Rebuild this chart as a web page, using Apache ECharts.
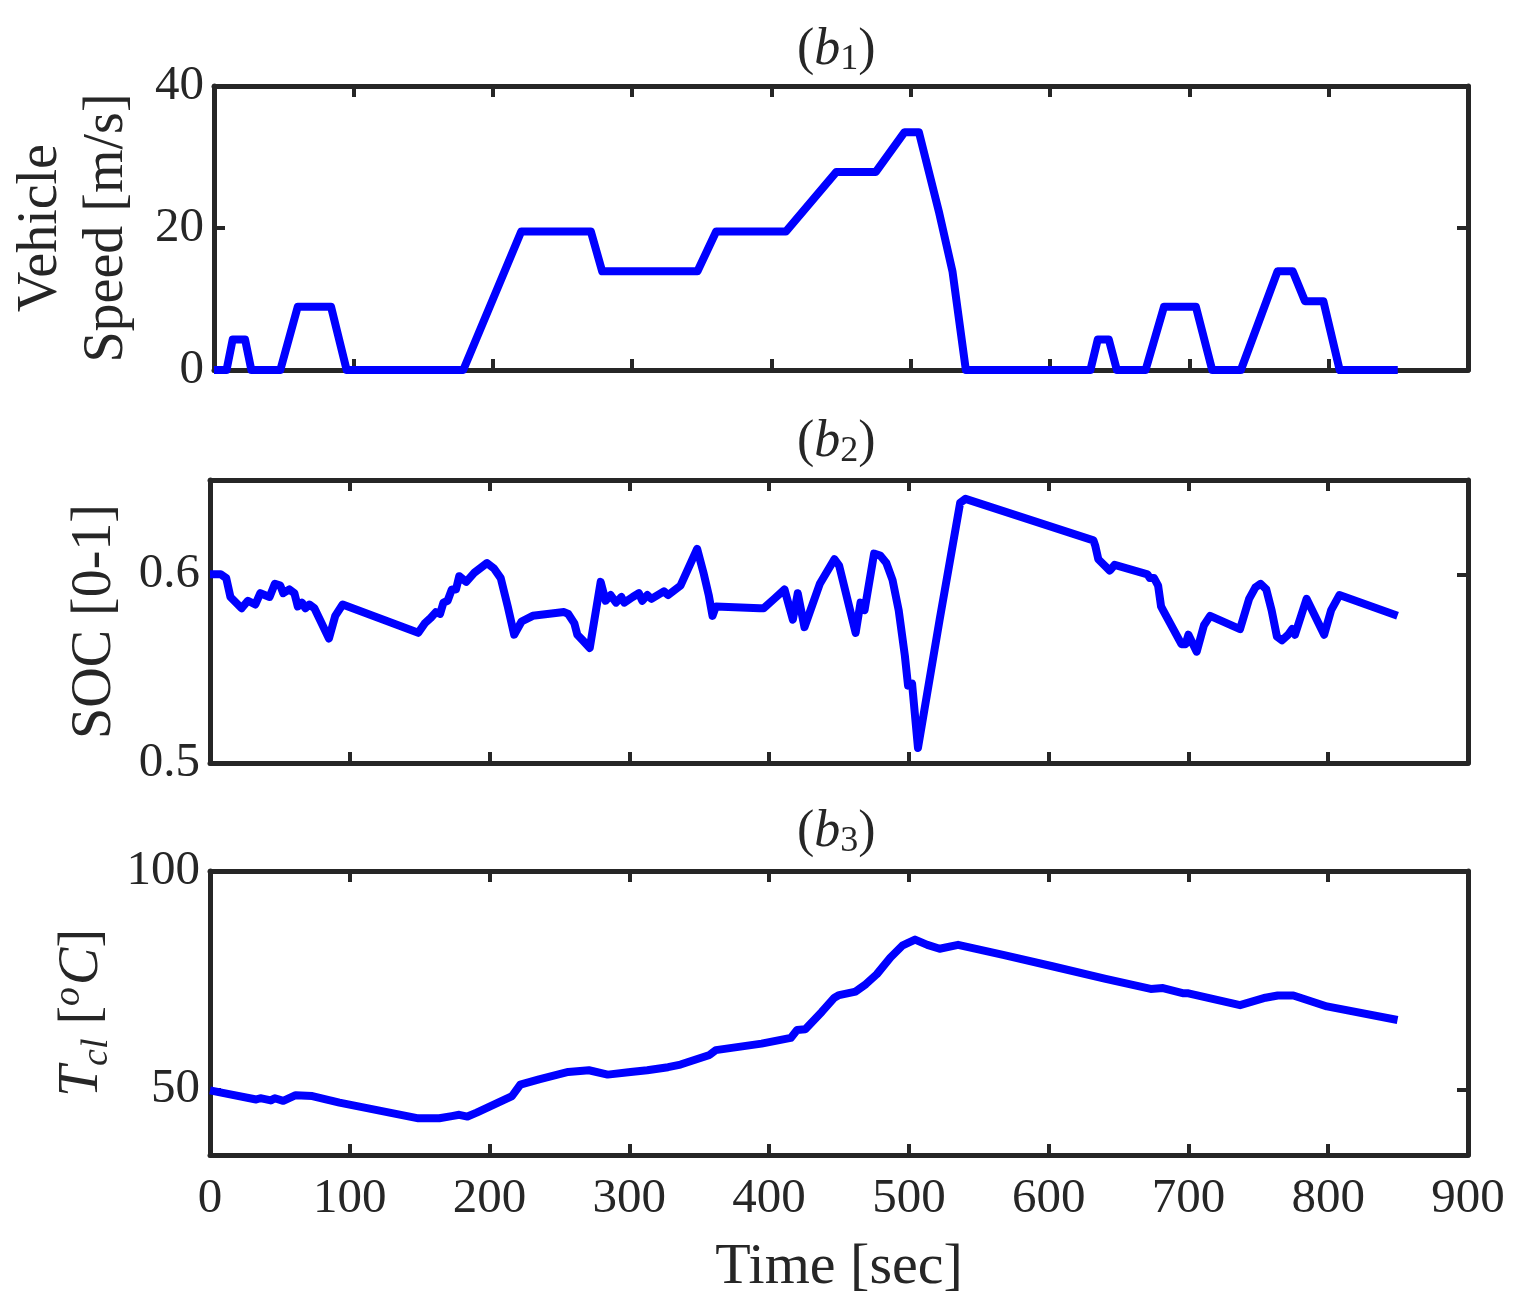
<!DOCTYPE html>
<html>
<head>
<meta charset="utf-8">
<script src="https://cdn.jsdelivr.net/npm/echarts@6/dist/echarts.min.js"></script>
<style>
html, body { margin: 0; padding: 0; background: #fff; }
#main { width: 1528px; height: 1301px; }
</style>
</head>
<body>
<div id="main"></div>
<script>
// time axis ticks
var timeTicks = [0, 100, 200, 300, 400, 500, 600, 700, 800, 900];

// (b1) vehicle speed [m/s]
var speedT = [0, 9, 13.4, 22.3, 26.8, 47.6, 60.1, 84, 95.2, 178.9, 220.5, 270.5, 278.6, 347, 360.4, 410.4, 446.7, 475, 495.6, 505.9, 520.5, 530, 539.6, 629, 634.3, 642.2, 648, 668.6, 681.8, 704.7, 716.4, 737, 763.3, 774.2, 783, 796.2, 807.9, 849.6];
var speedV = [0, 0, 4.3, 4.3, 0, 0, 8.9, 8.9, 0, 0, 19.5, 19.5, 13.9, 13.9, 19.5, 19.5, 27.9, 27.9, 33.5, 33.5, 22.1, 13.9, 0, 0, 4.3, 4.3, 0, 0, 8.9, 8.9, 0, 0, 13.9, 13.9, 9.7, 9.7, 0, 0];

// (b2) SOC [0-1]
var socT = [0, 7.7, 11.6, 14.6, 22.6, 27.1, 32.4, 36, 42.6, 46.4, 50.3, 52.4, 56.8, 60.4, 62.8, 65.8, 68.2, 71.1, 74.7, 85.1, 89.6, 94.9,
  149, 153.6, 158, 161.6, 164.6, 167, 170, 173, 176, 178.3, 183.3, 189.3, 198.2, 203.3, 208, 213, 217.6, 219, 222.9, 230.9,
  253.3, 256.3, 260.7, 262.8, 266.7, 271.7, 279.5, 283, 286.6, 290.5, 294.3, 296.4, 302.4, 306.8, 309.2, 312.8, 315.8, 324.7, 327.7, 336.6,
  348.5, 353, 356.8, 359.5, 361.9, 393.2, 396.1, 403.6, 411, 417, 420.5, 425.3, 436.3, 446.7, 450.1,
  461.9, 465.4, 468.3, 475.1, 479.5, 483.9, 488.3, 492.7, 497.1, 499.4, 502.3, 502.9, 506.5, 522, 536.7, 540.5,
  632, 633.4, 635.5, 643.7, 647.2, 670.7, 672.4, 675.4, 678.3, 680.4, 681.8, 695, 697.9, 700, 705.9, 711.1, 715.5,
  736.9, 743.4, 747.8, 751.6, 755.7, 759.5, 763.3, 766.9, 771.3, 774.2, 776.2, 784.5, 797.1, 802.1, 808, 849.6];
var socV = [0.600, 0.600, 0.598, 0.588, 0.582, 0.586, 0.584, 0.590, 0.588, 0.595, 0.594, 0.590, 0.592, 0.590, 0.583, 0.585, 0.582, 0.584, 0.582, 0.566, 0.578, 0.584,
  0.569, 0.574, 0.577, 0.580, 0.579, 0.585, 0.586, 0.592, 0.592, 0.599, 0.596, 0.601, 0.606, 0.603, 0.598, 0.583, 0.568, 0.567, 0.575, 0.578,
  0.580, 0.579, 0.574, 0.568, 0.565, 0.561, 0.596, 0.586, 0.589, 0.585, 0.588, 0.585, 0.588, 0.590, 0.586, 0.589, 0.587, 0.591, 0.589, 0.594,
  0.6135, 0.601, 0.589, 0.578, 0.583, 0.582, 0.582, 0.587, 0.592, 0.576, 0.590, 0.572, 0.595, 0.608, 0.6046,
  0.569, 0.585, 0.581, 0.611, 0.610, 0.606, 0.597, 0.581, 0.557, 0.541, 0.542, 0.537, 0.508, 0.576, 0.638, 0.640,
  0.618, 0.615, 0.608, 0.602, 0.605, 0.600, 0.598, 0.598, 0.594, 0.583, 0.581, 0.563, 0.563, 0.568, 0.559, 0.573, 0.578,
  0.571, 0.587, 0.593, 0.595, 0.592, 0.581, 0.567, 0.565, 0.568, 0.571, 0.568, 0.587, 0.568, 0.581, 0.589, 0.578];

// (b3) coolant temperature [oC]
var tempT = [0, 33, 36, 43.5, 46.4, 52.4, 61.3, 73.2, 92.6, 149.1, 164, 173, 178.3, 184.2, 190.8, 216.1, 222, 235.4, 256.3, 271.1, 284.5, 300.9, 312.8, 327.7, 336.6, 357.4, 361.9, 394.6, 415.5, 420, 425.9, 437.8, 446.7, 450.1,
  461.9, 469.2, 477.1, 486.8, 495.6, 504.4, 513.2, 522, 535.2, 567.4, 602.6, 640.8, 673, 681.8, 696.5, 700, 736.9, 755.1, 763.9, 775.1, 799.1, 849.6];
var tempV = [49.8, 47.7, 48.0, 47.5, 48.0, 47.4, 48.7, 48.5, 47.0, 43.4, 43.4, 43.9, 44.2, 43.8, 44.7, 48.5, 51.1, 52.3, 54.0, 54.4, 53.4, 54.0, 54.4, 55.1, 55.7, 57.9, 59.0, 60.5, 61.8, 63.6, 63.8, 67.8, 71.0, 71.6,
  72.4, 74.1, 76.4, 80.2, 83.0, 84.3, 83.1, 82.2, 83.1, 80.8, 78.2, 75.3, 73.0, 73.2, 72.0, 72.0, 69.3, 71.0, 71.5, 71.5, 69.0, 65.9];

var speedTicks = [0, 20, 40];
var socTicks = [0.5, 0.6];
var tempTicks = [50, 100];

function zip(a, b) {
  var out = [];
  for (var i = 0; i < a.length; i++) {
    out.push([a[i], b[i]]);
  }
  return out;
}

var ink = '#262626';
var font = '"Liberation Serif", "DejaVu Serif", serif';
var tickFont = 49;
var nameFont = 56;

var grids = [
  { left: 210, width: 1258, top: 86, height: 284 },
  { left: 210, width: 1258, top: 480, height: 283 },
  { left: 210, width: 1258, top: 871, height: 284 }
];

function frameLine() {
  return { show: true, onZero: false, lineStyle: { color: ink, width: 5 } };
}

var xAxes = [];
var yAxes = [];
for (var g = 0; g < 3; g++) {
  // bottom x axis
  xAxes.push({
    type: 'value', gridIndex: g, position: 'bottom', min: 0, max: 900,
    axisLine: frameLine(),
    axisTick: { show: true, inside: true, length: 11, customValues: timeTicks, lineStyle: { color: ink, width: 4 } },
    axisLabel: { show: g == 2, customValues: timeTicks, margin: 20, color: ink, fontFamily: font, fontSize: tickFont },
    splitLine: { show: false },
    name: g == 2 ? 'Time [sec]' : '',
    nameLocation: 'middle', nameGap: 84,
    nameTextStyle: { color: ink, fontFamily: font, fontSize: 58 }
  });
  // top x axis (frame + ticks)
  xAxes.push({
    type: 'value', gridIndex: g, position: 'top', min: 0, max: 900,
    axisLine: frameLine(),
    axisTick: { show: true, inside: true, length: 11, customValues: timeTicks, lineStyle: { color: ink, width: 4 } },
    axisLabel: { show: false },
    splitLine: { show: false }
  });
}

var yRanges = [[0, 40, speedTicks], [0.5, 0.65, socTicks], [35, 100, tempTicks]];
var yNames = [
  'Vehicle\nSpeed [m/s]',
  'SOC [0-1]',
  '{it|T}{sub|cl} {n|[}{sup|o}{it|C}{n|]}'
];
var yGaps = [74, 80, 88];

for (var g = 0; g < 3; g++) {
  var r = yRanges[g];
  yAxes.push({
    type: 'value', gridIndex: g, position: 'left', min: r[0], max: r[1],
    axisLine: frameLine(),
    axisTick: { show: true, inside: true, length: 11, customValues: r[2], lineStyle: { color: ink, width: 4 } },
    axisLabel: { show: true, customValues: r[2], margin: 10, color: ink, fontFamily: font, fontSize: tickFont },
    splitLine: { show: false },
    name: yNames[g],
    nameLocation: 'middle', nameGap: yGaps[g],
    nameTextStyle: {
      color: ink, fontFamily: font, fontSize: nameFont, lineHeight: 66,
      rich: {
        it: { fontStyle: 'italic', fontSize: nameFont, fontFamily: font, color: ink },
        n: { fontSize: nameFont, fontFamily: font, color: ink },
        sub: { fontStyle: 'italic', fontSize: 38, fontFamily: font, color: ink, verticalAlign: 'bottom', padding: [20, 0, 0, 0] },
        sup: { fontStyle: 'italic', fontSize: 38, fontFamily: font, color: ink, verticalAlign: 'top', padding: [0, 2, 20, 0] }
      }
    }
  });
  yAxes.push({
    type: 'value', gridIndex: g, position: 'right', min: r[0], max: r[1],
    axisLine: frameLine(),
    axisTick: { show: true, inside: true, length: 11, customValues: r[2], lineStyle: { color: ink, width: 4 } },
    axisLabel: { show: false },
    splitLine: { show: false }
  });
}

var seriesData = [zip(speedT, speedV), zip(socT, socV), zip(tempT, tempV)];
var series = [];
for (var g = 0; g < 3; g++) {
  series.push({
    type: 'line', xAxisIndex: g * 2, yAxisIndex: g * 2,
    data: seriesData[g], showSymbol: false, clip: false, animation: false,
    lineStyle: { color: '#0000ff', width: 8, join: 'round' }
  });
}

var titleTops = [24, 416, 806];
var graphics = [];
for (var g = 0; g < 3; g++) {
  graphics.push({
    type: 'text', left: 839 - 42, top: titleTops[g],
    style: {
      text: '{n|(}{it|b}{sub|' + (g + 1) + '}{n|)}',
      fill: ink,
      rich: {
        n: { fontSize: 52, fontFamily: font, fill: ink },
        it: { fontSize: 52, fontFamily: font, fontStyle: 'italic', fill: ink },
        sub: { fontSize: 36, fontFamily: font, fill: ink, verticalAlign: 'bottom', padding: [20, 0, 0, 0] }
      }
    }
  });
}

var chart = echarts.init(document.getElementById('main'), null, { renderer: 'canvas' });
chart.setOption({
  backgroundColor: '#ffffff',
  animation: false,
  grid: grids,
  xAxis: xAxes,
  yAxis: yAxes,
  series: series,
  graphic: graphics
});
</script>
</body>
</html>
